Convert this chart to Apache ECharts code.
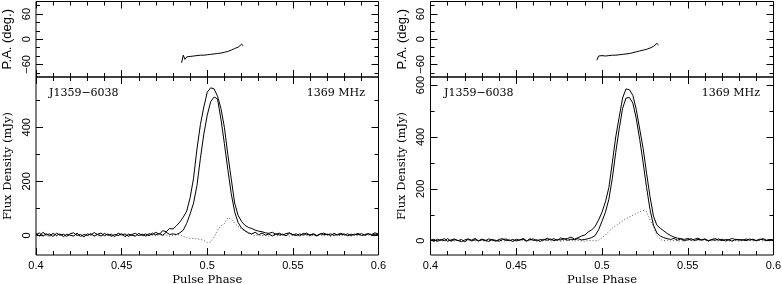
<!DOCTYPE html>
<html>
<head>
<meta charset="utf-8">
<script src="https://cdn.jsdelivr.net/npm/echarts@6/dist/echarts.min.js"></script>
<style>
html, body { margin: 0; padding: 0; background: #fff; }
#chart { width: 782px; height: 284px; }
</style>
</head>
<body>
<div id="chart"></div>
<script>
// pulse phase bins (shared by both profiles)
var phase = [
  0.400, 0.402, 0.404, 0.406, 0.408, 0.410, 0.412, 0.414, 0.416, 0.418,
  0.420, 0.422, 0.424, 0.426, 0.428, 0.430, 0.432, 0.434, 0.436, 0.438,
  0.440, 0.442, 0.444, 0.446, 0.448, 0.450, 0.452, 0.454, 0.456, 0.458,
  0.460, 0.462, 0.464, 0.466, 0.468, 0.470, 0.472, 0.474, 0.476, 0.478,
  0.480, 0.482, 0.484, 0.486, 0.488, 0.490, 0.492, 0.494, 0.496, 0.498,
  0.500, 0.502, 0.504, 0.506, 0.508, 0.510, 0.512, 0.514, 0.516, 0.518,
  0.520, 0.522, 0.524, 0.526, 0.528, 0.530, 0.532, 0.534, 0.536, 0.538,
  0.540, 0.542, 0.544, 0.546, 0.548, 0.550, 0.552, 0.554, 0.556, 0.558,
  0.560, 0.562, 0.564, 0.566, 0.568, 0.570, 0.572, 0.574, 0.576, 0.578,
  0.580, 0.582, 0.584, 0.586, 0.588, 0.590, 0.592, 0.594, 0.596, 0.598,
  0.600
];

// left profile: total intensity, linear, circular (mJy)
var totalL = [
  8, -2, 12, 2, 6, -4, 9, 1, 5, -3,
  7, 10, 0, 4, -5, 6, 2, 11, 3, -2,
  8, 1, 5, -4, 9, 2, 6, -3, 4, 8,
  0, 5, -2, 7, 3, 12, 4, 18, 14, 26,
  24, 36, 50, 68, 90, 140, 212, 320, 410, 475,
  530, 546, 542, 515, 470, 400, 300, 210, 120, 75,
  52, 38, 30, 26, 20, 16, 14, 10, 8, 12,
  4, 9, 2, 7, 10, 3, 6, -1, 8, 4,
  2, 7, 0, 5, 9, 3, 6, 1, 4, 8,
  2, 6, 0, 5, 3, 7, 1, 6, 4, 10,
  5
];
var linL = [
  3, 10, -3, 7, -1, 8, 0, 6, -4, 5,
  1, -2, 9, -3, 4, 0, 7, -2, 5, 9,
  -1, 6, -3, 4, 0, 7, -4, 5, 1, -2,
  8, 0, 6, -1, 9, 2, 8, 1, 12, 4,
  6, 4, 10, 20, 45, 80, 120, 185, 285, 375,
  445, 495, 512, 505, 430, 340, 245, 155, 88, 48,
  28, 18, 10, 6, 12, 3, 9, 1, 6, -2,
  7, 2, 5, -1, 8, 3, 0, 6, 2, 9,
  1, 4, -2, 7, 3, 5, 0, 8, 2, 4,
  6, -1, 5, 2, 8, 0, 4, 7, 1, 5,
  3
];
var circL = [
  1, -2, 3, 0, -3, 2, -1, 4, 0, -2,
  2, -1, 3, -3, 1, 0, 2, -2, 3, 1,
  -1, 2, 0, -3, 3, 1, -2, 2, 0, -1,
  3, 0, -2, 2, 1, -1, 3, 0, 2, -2,
  1, 2, 3, -3, -8, -10, -11, -12, -14, -18,
  -26, -24, -6, 20, 36, 44, 66, 60, 46, 34,
  24, 15, 8, 3, 0, 2, -1, 1, -2, 2,
  0, -1, 2, 1, -2, 0, 3, -1, 1, 0,
  -2, 1, 0, 2, -1, 1, -3, 0, 2, -1,
  1, 0, -2, 2, 0, 1, -1, 2, 0, -1,
  1
];

// right profile
var totalR = [
  4, -3, 6, 1, 8, -2, 3, 7, 0, 5,
  -4, 6, 2, 9, -1, 4, 0, 7, 3, -2,
  5, 8, 1, 3, -3, 6, 2, 9, 0, 4,
  7, -1, 5, 2, 10, 3, 8, 1, 11, 6,
  9, 14, 6, 12, 18, 22, 34, 42, 55, 80,
  110, 150, 205, 300, 400, 475, 550, 585, 582, 560,
  505, 430, 355, 260, 170, 95, 60, 48, 38, 28,
  20, 14, 10, 8, 5, 9, 2, 6, 10, 3,
  7, 0, 5, 8, 2, 6, -1, 4, 9, 3,
  5, 1, 7, 2, 6, 0, 4, 8, 2, 5,
  3
];
var linR = [
  2, 6, -3, 5, 0, 8, -2, 4, 1, -4,
  3, 7, -1, 4, 0, 6, 2, -3, 5, 1,
  -2, 4, 7, 0, 5, -1, 3, 6, -2, 8,
  1, 4, -3, 6, 2, 7, 0, 5, 3, 8,
  2, 6, 4, 8, 3, 5, 8, 12, 20, 42,
  75, 110, 160, 240, 340, 430, 510, 550, 552, 530,
  470, 390, 300, 205, 120, 60, 30, 18, 12, 8,
  5, 9, 2, 7, 0, 4, 8, 1, 5, 3,
  6, -1, 4, 2, 7, 0, 5, 3, -2, 6,
  2, 5, 0, 7, 3, 1, 6, 4, 0, 5,
  2
];
var circR = [
  0, 2, -1, 1, -2, 3, 0, -1, 2, 0,
  -2, 1, 3, 0, -1, 2, -3, 1, 0, 2,
  1, -1, 0, 2, -2, 1, 3, 0, -1, 1,
  2, 0, -2, 1, 3, -1, 0, 2, -2, 1,
  0, 2, -1, 1, 0, -2, 1, 0, 0, 2,
  12, 22, 36, 48, 58, 68, 76, 85, 92, 99,
  105, 112, 117, 112, 80, 55, 20, 5, 0, 2,
  -1, 1, 0, -2, 2, 0, 1, -1, 2, 0,
  1, -2, 0, 1, -1, 2, 0, -1, 1, 0,
  -2, 1, 0, 2, -1, 0, 1, -1, 2, 0,
  1
];

// position angle (deg.), only where linear is strong
var paPhaseL = [
  0.485, 0.486, 0.487, 0.488, 0.489, 0.490, 0.491, 0.492, 0.493, 0.494,
  0.495, 0.496, 0.497, 0.498, 0.499, 0.500, 0.501, 0.502, 0.503, 0.504,
  0.505, 0.506, 0.507, 0.508, 0.509, 0.510, 0.511, 0.512, 0.513, 0.514,
  0.515, 0.516, 0.517, 0.518, 0.519, 0.520, 0.521
];
var paL = [
  -56, -38, -48, -42, -43, -41, -41, -40, -40, -39,
  -39, -38, -38, -38, -37, -37, -36, -36, -35, -35,
  -34, -34, -33, -33, -32, -31, -30, -29, -28, -26,
  -24, -22, -21, -19, -16, -12, -15
];
var paPhaseR = [
  0.497, 0.498, 0.499, 0.500, 0.501, 0.502, 0.503, 0.504, 0.505, 0.506,
  0.507, 0.508, 0.509, 0.510, 0.511, 0.512, 0.513, 0.514, 0.515, 0.516,
  0.517, 0.518, 0.519, 0.520, 0.521, 0.522, 0.523, 0.524, 0.525, 0.526,
  0.527, 0.528, 0.529, 0.530, 0.531, 0.532, 0.533
];
var paR = [
  -50, -40, -42, -39, -40, -40, -40, -39, -39, -38,
  -38, -38, -37, -37, -36, -36, -35, -35, -34, -34,
  -33, -32, -31, -30, -29, -28, -27, -26, -25, -24,
  -22, -21, -19, -17, -14, -10, -14
];

// tick values
var paMajor = [-60, 0, 60];
var paMinor = [-80, -40, -20, 20, 40, 80];
var fluxMajor = [0, 200, 400, 600];
var fluxMinor = [100, 300, 500];

var sans = 'Liberation Sans';
var serif = 'DejaVu Serif';
function minus(v) { return String(v).replace('-', '\u2212'); }

var grids = [
  {left: 36, top: 1.5, width: 342.5, height: 75.5},
  {left: 36, top: 77, width: 342.5, height: 178},
  {left: 430.5, top: 1.5, width: 343, height: 75.5},
  {left: 430.5, top: 77, width: 343, height: 178}
];
grids.forEach(function (g) {
  g.show = true; g.borderColor = '#000'; g.borderWidth = 1; g.backgroundColor = 'transparent';
  g.outerBoundsMode = 'none'; g.containLabel = false;
});

var xAxes = [], yAxes = [];
function addPanel(gi, yMin, yMax, major, minor, yName, yFont, withX) {
  var xi = xAxes.length, yi = yAxes.length;
  ['bottom', 'top'].forEach(function (pos) {
    var lab = withX && pos === 'bottom';
    xAxes.push({
      type: 'value', gridIndex: gi, position: pos, min: 0.4, max: 0.6, interval: 0.05,
      axisLine: {show: false, onZero: false},
      axisTick: {inside: true, length: 7, lineStyle: {color: '#000'}},
      minorTick: {show: true, splitNumber: 5, length: 4, lineStyle: {color: '#000'}},
      axisLabel: {show: lab, margin: 5, color: '#000', fontFamily: sans, fontSize: 11},
      splitLine: {show: false},
      name: lab ? 'Pulse Phase' : '', nameLocation: 'middle', nameGap: 19, nameMoveOverlap: false,
      nameTextStyle: {color: '#000', fontFamily: serif, fontSize: 11.5}
    });
  });
  [['left', major, 7, true], ['left', minor, 4, false],
   ['right', major, 7, false], ['right', minor, 4, false]].forEach(function (a) {
    yAxes.push({
      type: 'value', gridIndex: gi, position: a[0], min: yMin, max: yMax,
      axisLine: {show: false, onZero: false},
      axisTick: {inside: true, length: a[2], customValues: a[1], lineStyle: {color: '#000'}},
      axisLabel: {show: a[3], customValues: major, rotate: 90, margin: 4, formatter: minus,
                  color: '#000', fontFamily: sans, fontSize: 11},
      splitLine: {show: false},
      name: a[3] ? yName : '', nameLocation: 'middle', nameRotate: 90, nameGap: 22,
      nameTextStyle: yFont
    });
  });
  return {x: xi, y: yi};
}

var paFont = {color: '#000', fontFamily: sans, fontSize: 13};
var fxFont = {color: '#000', fontFamily: serif, fontSize: 11.5};
var axPaL = addPanel(0, -90, 90, paMajor, paMinor, 'P.A. (deg.)', paFont, false);
var axFxL = addPanel(1, -72, 586, fluxMajor, fluxMinor, 'Flux Density (mJy)', fxFont, true);
var axPaR = addPanel(2, -90, 90, paMajor, paMinor, 'P.A. (deg.)', paFont, false);
var axFxR = addPanel(3, -55, 631, fluxMajor, fluxMinor, 'Flux Density (mJy)', fxFont, true);

function pairs(xs, ys) { return xs.map(function (x, i) { return [x, ys[i]]; }); }
function line(xs, ys, ax, dotted) {
  return {
    type: 'line', xAxisIndex: ax.x, yAxisIndex: ax.y, data: pairs(xs, ys),
    showSymbol: false, silent: true, clip: true,
    lineStyle: dotted ? {color: '#555', width: 1, type: [1, 2]} : {color: '#000', width: 1}
  };
}

var series = [
  line(paPhaseL, paL, axPaL),
  line(phase, circL, axFxL, true),
  line(phase, linL, axFxL),
  line(phase, totalL, axFxL),
  line(paPhaseR, paR, axPaR),
  line(phase, circR, axFxR, true),
  line(phase, linR, axFxR),
  line(phase, totalR, axFxR)
];

function label(x, y, text, align) {
  return {type: 'text', x: x, y: y, style: {text: text, align: align, verticalAlign: 'middle',
          fill: '#000', font: '11px "DejaVu Serif"'}};
}

var chart = echarts.init(document.getElementById('chart'), null, {renderer: 'canvas'});
chart.setOption({
  animation: false,
  backgroundColor: '#fff',
  grid: grids,
  xAxis: xAxes,
  yAxis: yAxes,
  series: series,
  graphic: [
    label(49, 93.5, 'J1359\u22126038', 'left'),
    label(365, 93.5, '1369 MHz', 'right'),
    label(444, 93.5, 'J1359\u22126038', 'left'),
    label(760, 93.5, '1369 MHz', 'right')
  ]
});
</script>
</body>
</html>
